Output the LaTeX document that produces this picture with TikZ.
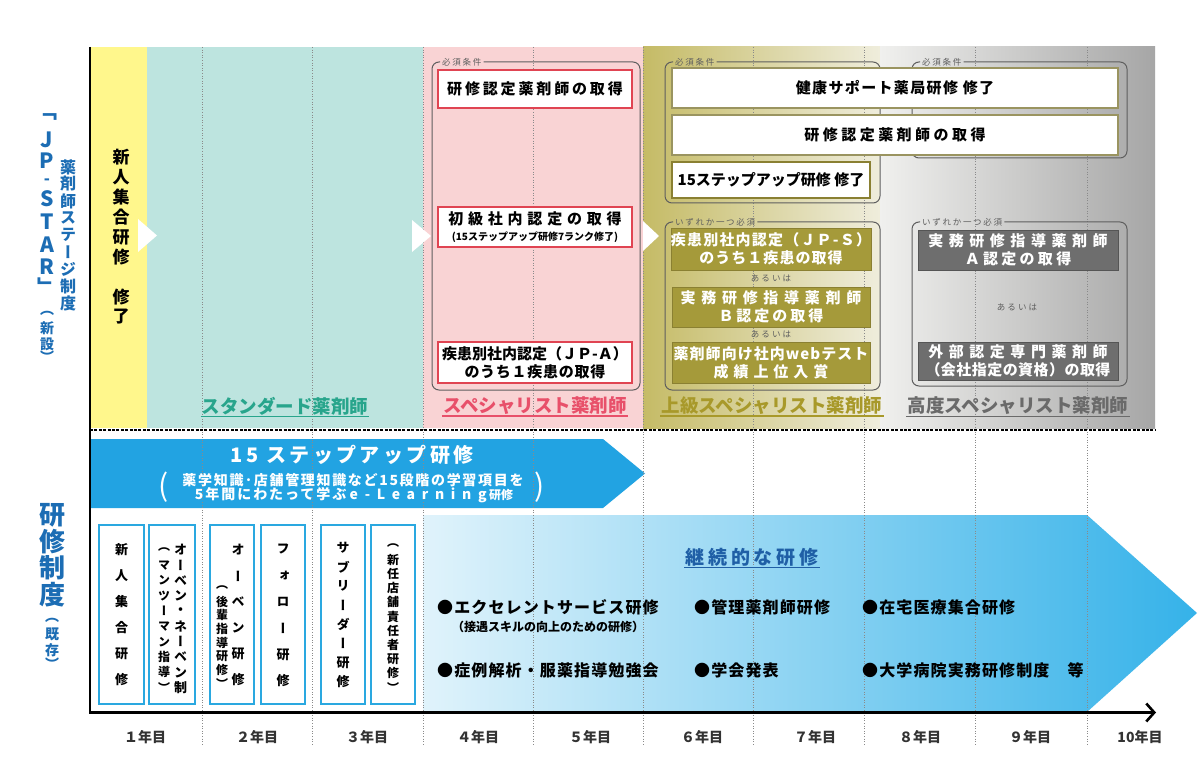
\documentclass[tikz,border=0pt]{standalone}
\usepackage{fontspec}
\setmainfont{Noto Sans CJK JP}
\newfontfamily\vjp{Noto Sans CJK JP}[RawFeature=+vert]
\usetikzlibrary{arrows.meta}
\newcommand\lsp[1]{\addfontfeature{LetterSpace=#1}}
\newcommand\fsz[1]{\fontsize{#1}{#1}\selectfont}
\definecolor{cyel}{HTML}{FFF78C}
\definecolor{cteal}{HTML}{BDE4DF}
\definecolor{cpink}{HTML}{F9D3D4}
\definecolor{colA}{HTML}{C5BB66}
\definecolor{colB}{HTML}{EFEDDC}
\definecolor{cgrA}{HTML}{F0F0EE}
\definecolor{cgrB}{HTML}{A6A6A6}
\definecolor{cblue}{HTML}{1C6DB4}
\definecolor{ceblue}{HTML}{22A3E2}
\definecolor{cbox}{HTML}{2AA8E0}
\definecolor{cred}{HTML}{E04452}
\definecolor{colbox}{HTML}{A59A3A}
\definecolor{oline}{HTML}{8A8032}
\definecolor{wline}{HTML}{9A9460}
\definecolor{cgbox}{HTML}{6E6E6E}
\definecolor{gline}{HTML}{555555}
\definecolor{frgray}{HTML}{5E5E5E}
\definecolor{dotgray}{HTML}{8A8A8A}
\definecolor{tteal}{HTML}{28A58C}
\definecolor{tpink}{HTML}{E8506A}
\definecolor{tolive}{HTML}{A8992A}
\definecolor{tgrey}{HTML}{6A6A6A}
\definecolor{tdark}{HTML}{1F5FA6}
\definecolor{gradL}{HTML}{E0F3FB}
\definecolor{gradR}{HTML}{35B2E9}
\definecolor{ydark}{HTML}{333333}
\begin{document}
\begin{tikzpicture}[x=1pt,y=-1pt,
  vch/.style={inner sep=0},
  redbox/.style={draw=cred,line width=2,fill=white,minimum width=194,inner sep=0,align=center,font=\bfseries\fontsize{15}{18}\selectfont},
  wbox/.style={draw=wline,line width=1.6,fill=white,inner sep=0,align=center,font=\bfseries\fsz{15}},
  obox/.style={draw=oline,line width=0.8,fill=colbox,minimum width=198,inner sep=0,align=center,text=white,font=\bfseries\fontsize{15}{18}\selectfont},
  gbox/.style={draw=gline,line width=0.8,fill=cgbox,minimum width=200,inner sep=0,align=center,text=white,font=\bfseries\fontsize{15}{18}\selectfont},
  bbox/.style={draw=cbox,line width=2,fill=white,minimum width=44,minimum height=179,inner sep=0},
  frame/.style={draw=frgray,line width=1,rounded corners=7},
  flabel/.style={font=\fsz{8.5}\lsp{20},text=frgray,inner xsep=2,inner ysep=0,anchor=west},
  orlabel/.style={font=\fsz{8.5}\lsp{25},text=frgray,inner sep=0},
  stage/.style={font=\bfseries\fsz{18.5},inner sep=1},
  item/.style={font=\bfseries\fsz{16}\lsp{7},anchor=west,inner sep=0},
  year/.style={font=\bfseries\fsz{14},text=ydark,inner sep=0},
  vdot/.style={draw=dotgray,line width=1,dash pattern=on 1pt off 1.6pt},
]
\useasboundingbox (0,0) rectangle (1201,767);
\fill[white] (0,0) rectangle (1201,767);
% top panel backgrounds
\fill[cyel] (90,47) rectangle (147,428);
\fill[cteal] (147,47) rectangle (423,428);
\fill[cpink] (423,47) rectangle (643,428);
\shade[left color=colA,right color=colB] (643,47) rectangle (880,428);
\shade[left color=cgrA,right color=cgrB] (880,47) rectangle (1155,428);
% arrows (bottom)
\fill[ceblue] (90,439) -- (603,439) -- (645,473.5) -- (603,508) -- (90,508) -- cycle;
\shade[left color=gradL,right color=gradR] (423,515) -- (1087,515) -- (1197,613) -- (1087,712) -- (423,712) -- cycle;
% year grid
\foreach \x in {202,312,423,533,643,753,864,975,1087} \draw[vdot] (\x,47) -- (\x,745);
\draw[line width=2.6,dash pattern=on 3pt off 1.4pt] (90,430) -- (1155,430);
% white step triangles
\fill[white] (138,219) -- (157,235.5) -- (138,252) -- cycle;
\fill[white] (412,220) -- (431,236) -- (412,252) -- cycle;
\fill[white] (643,221) -- (659,236) -- (643,251) -- cycle;
% frames
\node[flabel] (fl1) at (440,62) {必須条件};
\draw[frame] (fl1.east) -- (640,62) -- (640,390) -- (432,390) -- (432,62) -- (fl1.west);
\node[flabel] (fl2) at (673,62) {必須条件};
\draw[frame] (fl2.east) -- (880,62) -- (880,203) -- (665,203) -- (665,62) -- (fl2.west);
\node[flabel] (fl3) at (920,62) {必須条件};
\draw[frame] (fl3.east) -- (1127,62) -- (1127,158) -- (912,158) -- (912,62) -- (fl3.west);
\node[flabel] (fl4) at (673,222) {いずれか一つ必須};
\draw[frame] (fl4.east) -- (880,222) -- (880,390) -- (665,390) -- (665,222) -- (fl4.west);
\node[flabel] (fl5) at (920,222) {いずれか一つ必須};
\draw[frame] (fl5.east) -- (1127,222) -- (1127,386) -- (912,386) -- (912,222) -- (fl5.west);
% pink boxes
\node[redbox,minimum height=38] (p1) at (535,89) {\lsp{19}研修認定薬剤師の取得};
\node[redbox,minimum height=40] (p2) at (535,227) {{\lsp{32}初級社内認定の取得}\\[-2pt]{\fontsize{10}{11}\selectfont (15ステップアップ研修7ランク修了)}};
\node[redbox,minimum height=41] (p3) at (535,362.5) {疾患別社内認定（ＪＰ-Ａ）\\{\lsp{5}のうち１疾患の取得}};
% wide white boxes
\node[wbox,minimum width=446,minimum height=40] (w1) at (895,88) {\lsp{9}健康サポート薬局研修 修了};
\node[wbox,minimum width=446,minimum height=40] (w2) at (895,135) {\lsp{23}研修認定薬剤師の取得};
\node[wbox,draw=oline,line width=2,minimum width=198,minimum height=36] (w3) at (771,180) {15ステップアップ研修 修了};
% olive boxes
\node[obox,minimum height=42] (o1) at (771,249) {{\lsp{8}疾患別社内認定（ＪＰ-Ｓ）}\\{\lsp{7}のうち１疾患の取得}};
\node[orlabel] (or1) at (771,278.5) {あるいは};
\node[obox,minimum height=40] (o2) at (771,307) {{\lsp{38}実務研修指導薬剤師}\\{\lsp{20}Ｂ認定の取得}};
\node[orlabel] (or2) at (771,334.5) {あるいは};
\node[obox,minimum height=41] (o3) at (771,362.5) {{\lsp{7}薬剤師向け社内webテスト}\\{\lsp{33}成績上位入賞}};
% grey boxes
\node[gbox,minimum height=40] (g1) at (1018,250) {{\lsp{37}実務研修指導薬剤師}\\{\lsp{22}Ａ認定の取得}};
\node[orlabel] (or3) at (1017,307) {あるいは};
\node[gbox,minimum height=38] (g2) at (1018,361) {{\lsp{37}外部認定専門薬剤師}\\{\lsp{3}（会社指定の資格）の取得}};
% stage labels
\node[stage,text=tteal] (s1) at (285,406) {スタンダード薬剤師};
\draw[tteal,line width=1.3] (s1.south west) -- (s1.south east);
\node[stage,text=tpink] (s2) at (535,406) {スペシャリスト薬剤師};
\draw[tpink,line width=1.3] (s2.south west) -- (s2.south east);
\node[stage,text=tolive] (s3) at (772,406) {上級スペシャリスト薬剤師};
\draw[tolive,line width=1.3] (s3.south west) -- (s3.south east);
\node[stage,text=tgrey] (s4) at (1018,406) {高度スペシャリスト薬剤師};
\draw[tgrey,line width=1.3] (s4.south west) -- (s4.south east);
% yellow column vertical text
\foreach \c/\y [count=\i] in {新/157,人/177,集/197,合/217,研/237,修/257,修/297,了/317}
  \node[vch,font=\vjp\bfseries\fsz{17}] (y\i) at (121,\y) {\c};
% left titles
\foreach \c/\y [count=\i] in {「/117,」/286}
  \node[vch,font=\vjp\bfseries\fsz{20},text=cblue] (jb\i) at (47,\y) {\c};
\foreach \c/\y [count=\i] in {J/140,P/161,S/199,T/222,A/245,R/267}
  \node[vch,font=\bfseries\fsz{21},text=cblue] (jp\i) at (47,\y) {\c};
\node[vch,font=\bfseries\fsz{16},text=cblue] (jph) at (47,181.5) {-};
\foreach \c [count=\i from 0] in {薬,剤,師,ス,テ,ー,ジ,制,度}
  \node[vch,font=\vjp\bfseries\fsz{16},text=cblue] (ys\i) at (68,{167+17*\i}) {\c};
\foreach \c/\y [count=\i] in {（/313,新/328,設/344,）/357}
  \node[vch,font=\vjp\bfseries\fsz{14},text=cblue] (sn\i) at (47,\y) {\c};
\foreach \c/\y [count=\i] in {研/515,修/542,制/568,度/595}
  \node[vch,font=\vjp\bfseries\fsz{26},text=cblue] (ks\i) at (52,\y) {\c};
\foreach \c/\y [count=\i] in {（/620,既/634,存/650,）/664}
  \node[vch,font=\vjp\bfseries\fsz{14},text=cblue] (kz\i) at (52,\y) {\c};
% e-learning arrow text
\node[font=\bfseries\fsz{20}\lsp{17},text=white,inner sep=0] (et) at (352,455) {15 ステップアップ研修};
\node[font=\bfseries\fsz{14}\lsp{12},text=white,inner sep=0] (el2) at (353,480) {薬学知識･店舗管理知識など15段階の学習項目を};
\node[font=\bfseries\fsz{14},text=white,inner sep=0] (el3) at (354,495) {{\lsp{14}5年間にわたって学ぶ} {\lsp{48}e-Learning}\,{\fsz{12}研修}};
\node[font=\fsz{30},text=white,inner sep=0] (elp1) at (164,487) {(};
\node[font=\fsz{30},text=white,inner sep=0] (elp2) at (540,487) {)};
% existing training boxes
\node[bbox,minimum width=45] (b1) at (121.5,614.5) {};
\node[bbox,minimum width=46] (b2) at (172,614.5) {};
\node[bbox] (b3) at (232,614.5) {};
\node[bbox] (b4) at (283,614.5) {};
\node[bbox] (b5) at (343,614.5) {};
\node[bbox] (b6) at (393,614.5) {};
\foreach \c [count=\i from 0] in {新,人,集,合,研,修}
  \node[vch,font=\vjp\bfseries\fsz{13}] (bA\i) at (121.5,{550+26*\i}) {\c};
\foreach \c [count=\i from 0] in {オ,ー,ベ,ン,・,ネ,ー,ベ,ン,制}
  \node[vch,font=\vjp\bfseries\fsz{13}] (bB\i) at (180.5,{550+15.3*\i}) {\c};
\foreach \c [count=\i from 0] in {（,マ,ン,ツ,ー,マ,ン,指,導,）}
  \node[vch,font=\vjp\bfseries\fsz{12}] (bC\i) at (164,{550+15.3*\i}) {\c};
\foreach \c [count=\i from 0] in {オ,ー,ベ,ン,研,修}
  \node[vch,font=\vjp\bfseries\fsz{13}] (bD\i) at (238,{550+26*\i}) {\c};
\foreach \c [count=\i from 0] in {（,後,輩,指,導,研,修,）}
  \node[vch,font=\vjp\bfseries\fsz{12}] (bE\i) at (222,{588+13.7*\i}) {\c};
\foreach \c [count=\i from 0] in {フ,ォ,ロ,ー,研,修}
  \node[vch,font=\vjp\bfseries\fsz{13}] (bF\i) at (283,{549+26.4*\i}) {\c};
\foreach \c [count=\i from 0] in {サ,ブ,リ,ー,ダ,ー,研,修}
  \node[vch,font=\vjp\bfseries\fsz{13}] (bG\i) at (343,{548+19.1*\i}) {\c};
\foreach \c [count=\i from 0] in {（,新,任,店,舗,責,任,者,研,修,）}
  \node[vch,font=\vjp\bfseries\fsz{12}] (bH\i) at (393,{546+14.1*\i}) {\c};
% continuing training
\node[font=\bfseries\fsz{19}\lsp{20},text=tdark,inner sep=1] (kz) at (752,557) {継続的な研修};
\draw[tdark,line width=1.2] (kz.south west) -- (kz.south east);
\node[item] (i1) at (437,607) {●エクセレントサービス研修};
\node[font=\bfseries\fsz{12},anchor=west,inner sep=0] (i1s) at (452,627) {（接遇スキルの向上のための研修）};
\node[item] (i2) at (437,670) {●症例解析・服薬指導勉強会};
\node[item] (i3) at (694,607) {●管理薬剤師研修};
\node[item] (i4) at (694,670) {●学会発表};
\node[item] (i5) at (862,607) {●在宅医療集合研修};
\node[item] (i6) at (862,670) {●大学病院実務研修制度　等};
% years
\foreach \t/\x [count=\i] in {１年目/145,２年目/257,３年目/367,４年目/478,５年目/590,６年目/702,７年目/815,８年目/920,９年目/1030,10年目/1140}
  \node[year] (yr\i) at (\x,737) {\t};
% axes
\coordinate (ax0) at (90,47);
\coordinate (ax1) at (90,712.5);
\coordinate (ax2) at (1156,712.5);
\draw[line width=2.6,line join=miter,-{Straight Barb[length=8pt,width=18pt]}] (ax0) -- (ax1) -- (ax2);
\end{tikzpicture}
\end{document}
